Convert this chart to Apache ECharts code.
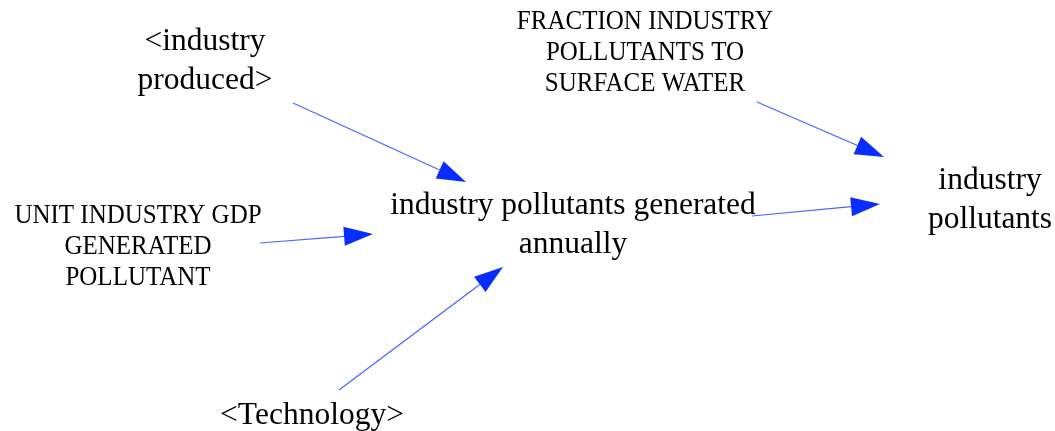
<!DOCTYPE html>
<html>
<head>
<meta charset="utf-8">
<script src="https://cdn.jsdelivr.net/npm/echarts@6/dist/echarts.min.js"></script>
<style>
html, body { margin: 0; padding: 0; background: #fff; }
#chart { width: 1055px; height: 431px; }
</style>
</head>
<body>
<div id="chart"></div>
<script>
// diagram nodes (text anchor = centre of the label block)
const nodeNames = [
  '<industry\nproduced>',
  'UNIT INDUSTRY GDP\nGENERATED\nPOLLUTANT',
  'FRACTION INDUSTRY\nPOLLUTANTS TO\nSURFACE WATER',
  'industry pollutants generated\nannually',
  'industry\npollutants',
  '<Technology>'
]
const nodeX = [205, 138, 645, 573, 990, 312]
const nodeY = [61, 247, 52.5, 225, 200, 415.5]
const nodeCaps = [false, true, true, false, false, false]

// causal links: start point -> arrow tip
const linkFrom = [[293, 103], [260, 243], [757, 102], [752, 216], [339, 390]]
const linkTo = [[466, 182], [373, 234], [884, 157], [880, 204], [503, 267]]

const textData = nodeNames.map((n, i) => [nodeX[i], nodeY[i], n, nodeCaps[i] ? 1 : 0])
const linkData = linkFrom.map((p, i) => [p[0], p[1], linkTo[i][0], linkTo[i][1]])

const chart = echarts.init(document.getElementById('chart'))

function renderLink (params, api) {
  const a = api.coord([api.value(0), api.value(1)])
  const b = api.coord([api.value(2), api.value(3)])
  const dx = b[0] - a[0], dy = b[1] - a[1]
  const len = Math.sqrt(dx * dx + dy * dy)
  const ux = dx / len, uy = dy / len
  const headLen = 29, headHalf = 9.5
  const bx = b[0] - ux * headLen, by = b[1] - uy * headLen
  return {
    type: 'group',
    children: [
      {
        type: 'line',
        shape: { x1: a[0], y1: a[1], x2: bx, y2: by },
        style: { stroke: '#4a63ff', lineWidth: 1.2 }
      },
      {
        type: 'polygon',
        shape: {
          points: [
            [b[0], b[1]],
            [bx - uy * headHalf, by + ux * headHalf],
            [bx + uy * headHalf, by - ux * headHalf]
          ]
        },
        style: { fill: '#0a2dff' }
      }
    ]
  }
}

function renderText (params, api) {
  const p = api.coord([api.value(0), api.value(1)])
  const caps = api.value(3) === 1
  return {
    type: 'text',
    x: p[0],
    y: p[1],
    scaleY: caps ? 1.12 : 1,
    style: {
      text: textData[params.dataIndex][2],
      fontFamily: 'Liberation Serif',
      fontSize: caps ? 25 : 31.5,
      lineHeight: caps ? 27.7 : 39.5,
      fill: '#000',
      align: 'center',
      verticalAlign: 'middle'
    }
  }
}

const option = {
  animation: false,
  grid: { left: 0, right: 0, top: 0, bottom: 0 },
  xAxis: { type: 'value', min: 0, max: 1055, show: false },
  yAxis: { type: 'value', min: 0, max: 431, inverse: true, show: false },
  series: [
    {
      type: 'custom',
      renderItem: renderLink,
      data: linkData,
      silent: true
    },
    {
      type: 'custom',
      renderItem: renderText,
      data: textData,
      dimensions: ['x', 'y', 'name', 'caps'],
      encode: { x: 0, y: 1 },
      silent: true
    }
  ]
}

chart.setOption(option)
window.addEventListener('resize', () => chart.resize())
</script>
</body>
</html>
